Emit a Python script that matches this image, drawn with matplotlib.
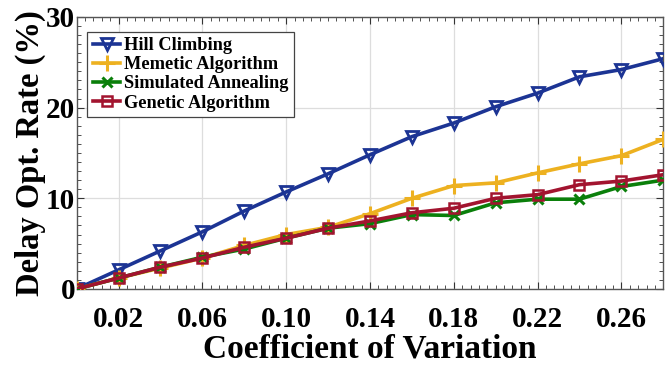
import numpy as np
import matplotlib
matplotlib.use("Agg")
import matplotlib.pyplot as plt
from matplotlib.ticker import MultipleLocator

plt.rcParams['font.family'] = ['Liberation Serif', 'DejaVu Serif']
plt.rcParams['font.weight'] = 'bold'

# coefficient of variation
cv = [0.00, 0.02, 0.04, 0.06, 0.08, 0.10, 0.12, 0.14,
      0.16, 0.18, 0.20, 0.22, 0.24, 0.26, 0.28]

hill = [0.0, 2.1, 4.2, 6.3, 8.6, 10.7, 12.7, 14.8, 16.8, 18.3, 20.1, 21.6, 23.4, 24.2, 25.4]
memetic = [0.0, 1.2, 2.3, 3.4, 4.8, 6.0, 6.8, 8.3, 10.0, 11.4, 11.7, 12.8, 13.8, 14.7, 16.5]
annealing = [0.0, 1.2, 2.4, 3.5, 4.4, 5.6, 6.7, 7.2, 8.2, 8.1, 9.5, 9.9, 9.9, 11.3, 12.0]
genetic = [0.0, 1.2, 2.4, 3.4, 4.6, 5.6, 6.7, 7.5, 8.4, 8.9, 10.0, 10.4, 11.5, 11.9, 12.6]

xticks = [0.02, 0.06, 0.10, 0.14, 0.18, 0.22, 0.26]
xticklabels = ['0.02', '0.06', '0.10', '0.14', '0.18', '0.22', '0.26']

fig = plt.figure(figsize=(6.69, 3.69), dpi=100)
ax = fig.add_axes([0.1145, 0.217, 0.877, 0.737])

lw = 2.6
ax.plot(cv, hill, color='#1c3494', lw=lw, marker='v', ms=9, mew=2,
        mfc='none', label='Hill Climbing', zorder=3)
ax.plot(cv, memetic, color='#edb120', lw=lw, marker='+', ms=11, mew=2.2,
        label='Memetic Algorithm', zorder=3)
ax.plot(cv, annealing, color='#0a7f0a', lw=lw, marker='x', ms=7, mew=2.2,
        label='Simulated Annealing', zorder=3)
ax.plot(cv, genetic, color='#a2142f', lw=lw, marker='s', ms=7.5, mew=1.8,
        mfc='none', label='Genetic Algorithm', zorder=4)

ax.set_xlim(0, 0.28)
ax.set_ylim(0, 30)
ax.set_xticks(xticks)
ax.set_xticklabels(xticklabels)
ax.set_yticks([0, 10, 20, 30])
ax.xaxis.set_minor_locator(MultipleLocator(0.004))
ax.yaxis.set_minor_locator(MultipleLocator(1))
ax.tick_params(which='both', direction='in', top=True, right=True,
               labelsize=21, color='#333333')
ax.tick_params(which='major', length=5, width=0.8)
ax.tick_params(which='minor', length=3, width=0.6)
ax.tick_params(axis='x', pad=12)
ax.tick_params(axis='y', pad=1)
for lab in ax.get_xticklabels() + ax.get_yticklabels():
    lab.set_fontweight('bold')

ax.grid(True, which='major', color='#dddddd', lw=0.9)
ax.set_axisbelow(True)
for s in ax.spines.values():
    s.set_color('#555555')
    s.set_linewidth(1.0)

ax.set_xlabel('Coefficient of Variation', fontsize=24, fontweight='bold', labelpad=1)
ax.set_ylabel('Delay Opt. Rate (%)', fontsize=23.5, fontweight='bold', labelpad=0)

leg = ax.legend(loc='upper left', bbox_to_anchor=(0.012, 0.96),
                prop={'weight': 'bold', 'size': 13.2}, handlelength=1.5,
                handletextpad=0.2, borderpad=0.3, labelspacing=0.12,
                borderaxespad=0.2, fancybox=False, framealpha=1)
leg.get_frame().set_edgecolor('#444444')
leg.get_frame().set_linewidth(0.9)

fig.savefig('out.png', dpi=100)
